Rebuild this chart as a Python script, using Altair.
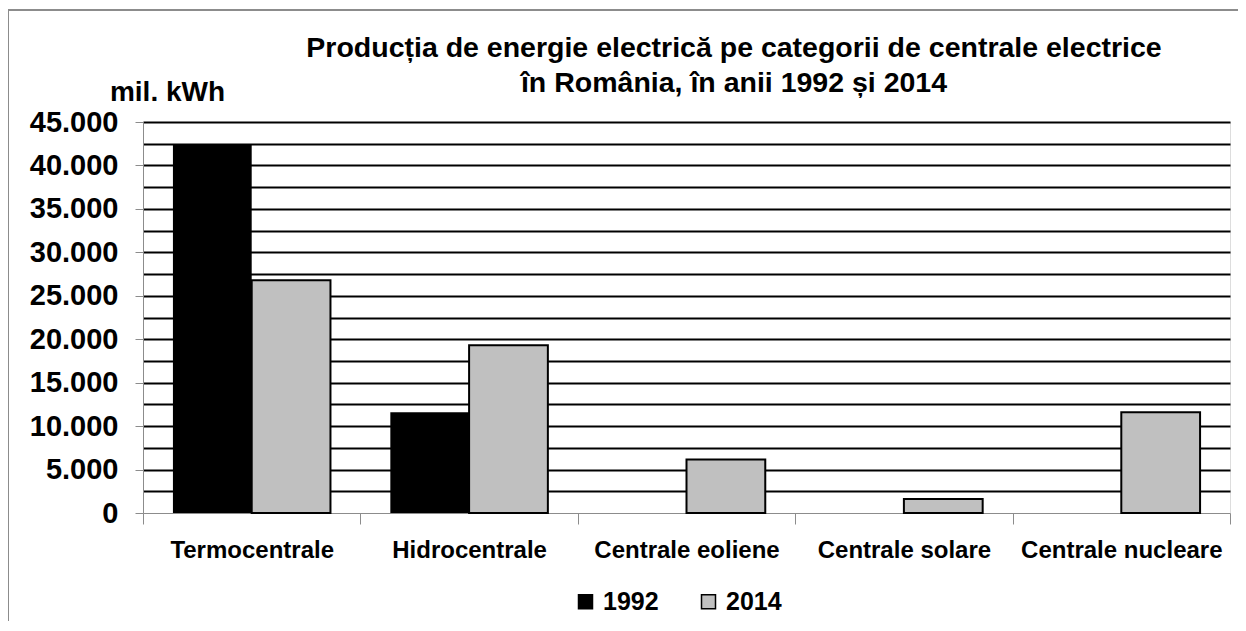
import altair as alt
import pandas as pd

categories = ["Termocentrale", "Hidrocentrale", "Centrale eoliene", "Centrale solare", "Centrale nucleare"]
years = ["1992", "2014"]
values_1992 = [42400, 11600, 0, 0, 0]
values_2014 = [26800, 19300, 6150, 1600, 11600]
title_lines = ["Producția de energie electrică pe categorii de centrale electrice",
               "în România, în anii 1992 și 2014"]
y_unit = "mil. kWh"
grid_values = list(range(0, 45001, 2500))
year_colors = ["#000000", "#c0c0c0"]

rows = []
for c, a, b in zip(categories, values_1992, values_2014):
    rows.append({"cat": c, "year": years[0], "value": a})
    rows.append({"cat": c, "year": years[1], "value": b})
df = pd.DataFrame(rows)

FONT = "Liberation Sans"
GRAY = "#8c8c8c"

bars = alt.Chart(df).mark_bar(strokeWidth=2).encode(
    x=alt.X("cat:N", sort=categories,
            scale=alt.Scale(paddingInner=0, paddingOuter=0),
            axis=alt.Axis(title=None, tickBand="extent", labelAngle=0, labelFont=FONT,
                          labelFontSize=24, labelFontWeight="bold", labelColor="black",
                          labelPadding=14, labelLimit=0, tickSize=11, tickColor=GRAY,
                          domainColor=GRAY, grid=False)),
    xOffset=alt.XOffset("year:N", sort=years, scale=alt.Scale(paddingOuter=0.38, paddingInner=0)),
    y=alt.Y("value:Q", scale=alt.Scale(domain=[0, 45000], nice=False),
            axis=alt.Axis(title=y_unit, titleAngle=0, titleX=24, titleY=-22,
                          titleAlign="center", titleBaseline="alphabetic", titleFont=FONT,
                          titleFontSize=28, titleFontWeight="bold", titleColor="black",
                          values=grid_values,
                          labelExpr="datum.value % 5000 === 0 ? replace(format(datum.value, ','), ',', '.') : ''",
                          labelFont=FONT, labelFontSize=29, labelFontWeight="bold",
                          labelColor="black", labelPadding=17, labelOverlap=False,
                          tickSize=8, tickColor=GRAY,
                          tickOpacity=alt.condition("datum.value % 5000 === 0", alt.value(1), alt.value(0)),
                          gridColor=alt.condition("datum.value === 0", alt.value("transparent"), alt.value("black")),
                          gridWidth=2, domainColor=GRAY)),
    color=alt.Color("year:N", scale=alt.Scale(domain=years, range=year_colors),
                    legend=alt.Legend(title=None, orient="none", legendX=430, legendY=467,
                                      direction="horizontal", symbolType="square",
                                      symbolSize=196, symbolStrokeColor="black",
                                      symbolStrokeWidth=1.5, labelFont=FONT, labelFontSize=25,
                                      labelFontWeight="bold", labelColor="black",
                                      labelOffset=5, columnPadding=37)),
    stroke=alt.condition(alt.datum.year == years[1], alt.value("black"), alt.value("transparent")),
)

deco = pd.DataFrame({"f": [0]})

frame = alt.Chart(deco).mark_rect(
    fill="transparent", stroke=GRAY, strokeWidth=2
).encode(x=alt.value(-135), x2=alt.value(1120), y=alt.value(-112), y2=alt.value(530))

title = alt.Chart(deco).mark_text(
    text=title_lines, font=FONT, fontSize=28.5, fontWeight="bold", color="black",
    align="center", baseline="alphabetic", lineHeight=35
).encode(x=alt.value(591), y=alt.value(-65))

chart = alt.layer(bars, frame, title).properties(
    width=1087, height=391,
    autosize=alt.AutoSizeParams(type="none"),
    padding={"left": 135, "top": 114, "right": 8, "bottom": 108},
).configure_view(stroke=None).configure(background="white")

chart.save("out.html", embed_options={"renderer": "svg", "actions": False})
